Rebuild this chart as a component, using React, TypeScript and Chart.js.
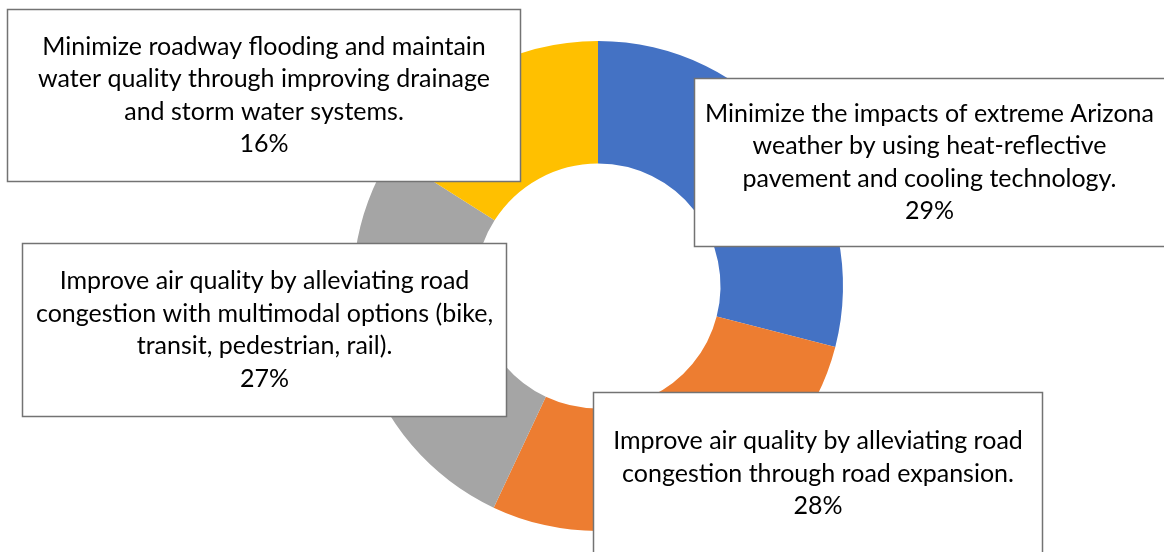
import React, { useEffect, useRef } from "react";
import { Chart, registerables } from "chart.js";

Chart.register(...registerables);

const categories: string[][] = [
  ["Minimize the impacts of extreme Arizona", "weather by using heat-reflective", "pavement and cooling technology."],
  ["Improve air quality by alleviating road", "congestion through road expansion."],
  ["Improve air quality by alleviating road", "congestion with multimodal options (bike,", "transit, pedestrian, rail)."],
  ["Minimize roadway flooding and maintain", "water quality through improving drainage", "and storm water systems."],
];
const values: number[] = [29, 28, 27, 16];
const colors: string[] = ["#4472C4", "#ED7D31", "#A5A5A5", "#FFC000"];

// label box layout (x, y, w, h) per slice
const boxes = [
  { x: 694.5, y: 78.5, w: 470, h: 168, open: true },
  { x: 593.5, y: 392.5, w: 449, h: 162, open: false },
  { x: 22.5, y: 243.5, w: 484, h: 173, open: false },
  { x: 7.5, y: 9.5, w: 513, h: 172, open: false },
];

const FONT = "25px Lato, 'Noto Sans', sans-serif";
const LINE_H = 32.5;

const labelBoxes = {
  id: "labelBoxes",
  afterDatasetsDraw(chart: any) {
    const ctx: CanvasRenderingContext2D = chart.ctx;
    const ds = chart.data.datasets[0];
    const total = (ds.data as number[]).reduce((a, b) => a + b, 0);
    ctx.save();
    chart.data.labels.forEach((lab: string[], i: number) => {
      const b = boxes[i];
      ctx.fillStyle = "#ffffff";
      ctx.fillRect(b.x, b.y, b.w, b.h);
      ctx.strokeStyle = "#737373";
      ctx.lineWidth = 1.5;
      ctx.strokeRect(b.x, b.y, b.open ? b.w + 10 : b.w, b.h);
      const pct = Math.round(((ds.data[i] as number) / total) * 100) + "%";
      const lines = [...lab, pct];
      ctx.fillStyle = "#000000";
      ctx.font = FONT;
      ctx.textAlign = "center";
      ctx.textBaseline = "middle";
      const cx = b.x + b.w / 2;
      const cy = b.y + b.h / 2;
      const start = cy - ((lines.length - 1) * LINE_H) / 2;
      lines.forEach((ln, k) => ctx.fillText(ln, cx, start + k * LINE_H));
    });
    ctx.restore();
  },
};

export default function App() {
  const ref = useRef<HTMLCanvasElement>(null);
  useEffect(() => {
    if (!ref.current) return;
    const chart = new Chart(ref.current, {
      type: "doughnut",
      data: {
        labels: categories as any,
        datasets: [
          {
            data: values,
            backgroundColor: colors,
            borderWidth: 0,
            hoverOffset: 0,
          },
        ],
      },
      options: {
        animation: false,
        responsive: true,
        maintainAspectRatio: false,
        cutout: "50%",
        layout: { padding: { left: 353, right: 321, top: 41, bottom: 21 } },
        plugins: { legend: { display: false }, tooltip: { enabled: false } },
      },
      plugins: [labelBoxes],
    });
    return () => chart.destroy();
  }, []);
  return (
    <div style={{ position: "absolute", left: 0, top: 0, width: 1164, height: 552, background: "#fff" }}>
      <canvas ref={ref} />
    </div>
  );
}
